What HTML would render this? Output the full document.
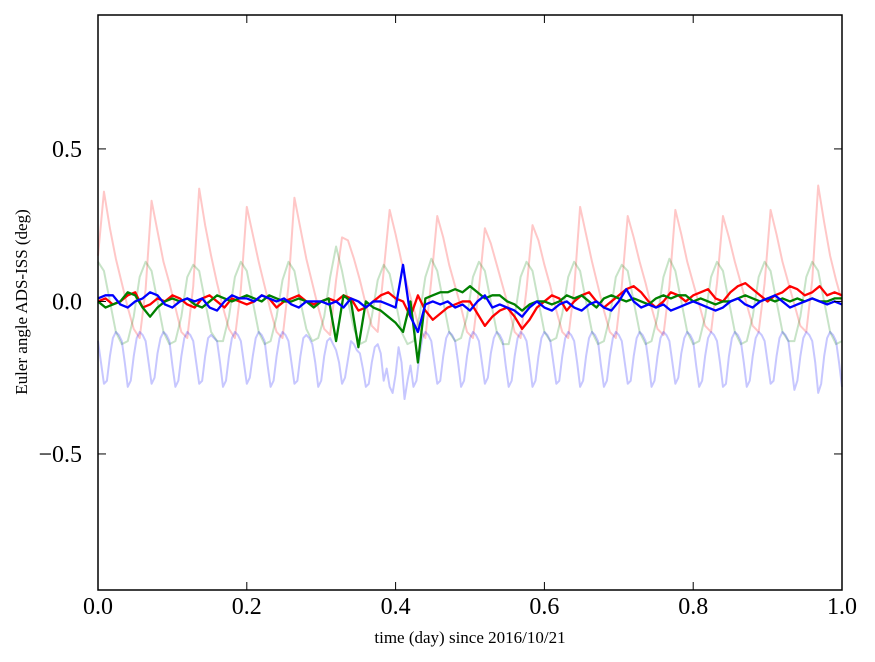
<!DOCTYPE html>
<html><head><meta charset="utf-8"><style>
html,body{margin:0;padding:0;background:#fff;}
svg{display:block;font-family:"Liberation Serif",serif;}
</style></head><body>
<svg id="chart" width="875" height="662" viewBox="0 0 875 662" xmlns="http://www.w3.org/2000/svg">
<rect x="0" y="0" width="875" height="662" fill="#fff"/>
<g id="series"></g>
<rect x="98" y="15" width="744" height="575" fill="none" stroke="#000" stroke-width="1.5"/>
<g id="ticks"></g>
<text x="470" y="643" font-size="17" text-anchor="middle">time (day) since 2016/10/21</text>
<text transform="translate(27,302) rotate(-90)" font-size="17" text-anchor="middle">Euler angle ADS-ISS (deg)</text>
</svg>
<script>
const xTicks=[0,0.2,0.4,0.6,0.8,1.0];
const xTickLabels=["0.0","0.2","0.4","0.6","0.8","1.0"];
const yTicks=[0.5,0,-0.5];
const yTickLabels=["0.5","0.0","\u22120.5"];
const paleStep=0.008;
const paleRed=[0.15,
0.36,0.24,0.14,0.06,-0.02,-0.09,-0.12,0.04,
0.33,0.23,0.13,0.06,-0.02,-0.1,-0.12,0.05,
0.37,0.25,0.15,0.06,-0.02,-0.09,-0.12,0.04,
0.31,0.22,0.13,0.05,-0.03,-0.1,-0.12,0.05,
0.34,0.24,0.14,0.06,-0.02,-0.09,-0.11,0.07,
0.21,0.2,0.14,0.07,-0.01,-0.08,-0.1,0.1,
0.30,0.22,0.13,0.05,-0.02,-0.09,-0.12,0.07,
0.28,0.21,0.12,0.05,-0.02,-0.1,-0.12,0.04,
0.24,0.19,0.12,0.05,-0.02,-0.1,-0.12,0.04,
0.25,0.2,0.12,0.05,-0.03,-0.1,-0.12,0.04,
0.31,0.22,0.13,0.05,-0.03,-0.1,-0.12,0.05,
0.28,0.21,0.13,0.06,-0.02,-0.09,-0.11,0.05,
0.30,0.22,0.13,0.06,-0.01,-0.08,-0.1,0.06,
0.28,0.21,0.13,0.06,-0.01,-0.08,-0.1,0.06,
0.30,0.22,0.13,0.06,-0.01,-0.08,-0.1,0.07,
0.38,0.26,0.15,0.07,0.0];
const paleGreen=[
0.13,0.1,0.0,-0.1,-0.14,-0.13,-0.05,0.08,
0.13,0.1,0.0,-0.1,-0.14,-0.13,-0.05,0.08,
0.12,0.1,0.0,-0.1,-0.13,-0.13,-0.05,0.08,
0.13,0.1,0.0,-0.1,-0.14,-0.13,-0.05,0.07,
0.13,0.1,0.0,-0.09,-0.13,-0.12,-0.05,0.08,
0.18,0.1,0.0,-0.09,-0.14,-0.13,-0.05,0.07,
0.12,0.09,0.0,-0.1,-0.14,-0.13,-0.05,0.08,
0.14,0.1,0.0,-0.1,-0.13,-0.12,-0.05,0.08,
0.13,0.1,0.0,-0.1,-0.14,-0.14,-0.05,0.08,
0.13,0.1,0.0,-0.1,-0.13,-0.12,-0.04,0.08,
0.13,0.1,0.0,-0.1,-0.14,-0.13,-0.05,0.08,
0.12,0.1,0.0,-0.1,-0.14,-0.13,-0.05,0.08,
0.14,0.1,0.0,-0.1,-0.14,-0.13,-0.05,0.08,
0.13,0.1,0.0,-0.1,-0.14,-0.13,-0.05,0.08,
0.13,0.1,0.0,-0.1,-0.13,-0.13,-0.05,0.08,
0.13,0.1,0.0,-0.1,-0.14,-0.13];
const paleBlueStep=0.004;
const paleBlue=[
-0.13,-0.2,-0.27,-0.26,-0.18,-0.12,-0.1,-0.11,
-0.13,-0.2,-0.28,-0.26,-0.18,-0.12,-0.1,-0.11,
-0.13,-0.2,-0.27,-0.25,-0.17,-0.12,-0.1,-0.11,
-0.13,-0.21,-0.28,-0.26,-0.18,-0.12,-0.1,-0.11,
-0.13,-0.2,-0.27,-0.26,-0.18,-0.12,-0.11,-0.12,
-0.13,-0.2,-0.28,-0.26,-0.18,-0.12,-0.1,-0.11,
-0.13,-0.2,-0.27,-0.25,-0.18,-0.12,-0.1,-0.11,
-0.13,-0.21,-0.28,-0.26,-0.18,-0.12,-0.1,-0.11,
-0.13,-0.2,-0.27,-0.26,-0.18,-0.12,-0.11,-0.12,
-0.14,-0.2,-0.28,-0.26,-0.18,-0.13,-0.12,-0.14,
-0.16,-0.2,-0.27,-0.25,-0.19,-0.13,-0.14,-0.16,
-0.17,-0.22,-0.28,-0.27,-0.2,-0.15,-0.14,-0.17,
-0.26,-0.22,-0.28,-0.3,-0.24,-0.15,-0.2,-0.32,
-0.26,-0.21,-0.28,-0.26,-0.18,-0.12,-0.1,-0.11,
-0.13,-0.2,-0.27,-0.26,-0.18,-0.12,-0.1,-0.11,
-0.13,-0.2,-0.28,-0.26,-0.18,-0.12,-0.1,-0.11,
-0.13,-0.2,-0.27,-0.25,-0.17,-0.12,-0.1,-0.11,
-0.13,-0.21,-0.28,-0.26,-0.18,-0.12,-0.1,-0.11,
-0.13,-0.2,-0.28,-0.26,-0.18,-0.12,-0.1,-0.11,
-0.13,-0.2,-0.27,-0.26,-0.18,-0.12,-0.1,-0.11,
-0.13,-0.2,-0.28,-0.26,-0.18,-0.12,-0.1,-0.11,
-0.13,-0.21,-0.28,-0.26,-0.18,-0.12,-0.1,-0.11,
-0.13,-0.2,-0.27,-0.26,-0.18,-0.12,-0.1,-0.11,
-0.13,-0.2,-0.28,-0.26,-0.18,-0.12,-0.1,-0.11,
-0.13,-0.2,-0.27,-0.25,-0.17,-0.12,-0.1,-0.11,
-0.13,-0.21,-0.28,-0.26,-0.18,-0.12,-0.1,-0.11,
-0.13,-0.2,-0.28,-0.27,-0.18,-0.12,-0.1,-0.11,
-0.13,-0.2,-0.28,-0.26,-0.18,-0.12,-0.1,-0.11,
-0.13,-0.2,-0.27,-0.26,-0.18,-0.12,-0.1,-0.11,
-0.13,-0.21,-0.29,-0.26,-0.18,-0.12,-0.1,-0.11,
-0.13,-0.2,-0.3,-0.27,-0.18,-0.12,-0.1,-0.11,
-0.13,-0.2,-0.28];
const darkStep=0.01;
const darkRed=[0,0.01,-0.01,0.0,0.02,0.03,-0.02,-0.01,0.01,0.0,
0.02,0.01,-0.01,-0.02,0.01,0.02,0.0,-0.02,0.01,0.0,
-0.01,0.0,0.02,0.01,-0.02,0.0,0.01,0.02,0.0,-0.01,
0.0,0.01,0.0,0.02,0.01,-0.03,-0.02,0.0,0.02,0.03,
0.01,0.0,-0.05,0.02,-0.03,-0.06,-0.04,-0.02,-0.01,0.0,
0.0,-0.04,-0.08,-0.05,-0.03,-0.02,-0.05,-0.09,-0.06,-0.02,
0.0,0.02,0.01,-0.03,0.0,0.02,0.03,0.0,-0.02,0.0,
0.02,0.04,0.05,0.03,0.0,-0.02,0.0,0.03,0.02,0.0,
0.02,0.03,0.04,0.01,0.0,0.03,0.05,0.06,0.04,0.02,
0.0,0.02,0.03,0.05,0.04,0.02,0.03,0.05,0.02,0.03,0.02];
const darkGreen=[0,-0.02,-0.01,0.0,0.03,0.02,-0.02,-0.05,-0.02,0.0,
0.01,0.0,0.01,-0.01,-0.02,0.0,0.02,0.01,0.0,0.01,
0.02,0.01,0.0,0.02,0.01,0.0,0.0,0.01,0.0,-0.02,
0.0,0.01,-0.13,0.02,0.0,-0.15,0.0,-0.02,-0.03,-0.05,
-0.07,-0.1,0.0,-0.2,0.01,0.02,0.03,0.03,0.04,0.03,
0.05,0.03,0.01,0.02,0.02,0.0,-0.01,-0.03,-0.01,0.0,
0.0,-0.01,0.0,0.02,0.01,0.02,0.0,-0.02,0.01,0.02,
0.01,0.0,0.01,0.0,-0.01,0.01,0.02,0.01,0.02,0.02,
0.0,0.01,0.0,-0.01,0.0,0.0,0.01,0.02,0.01,0.0,
0.01,0.0,0.01,0.0,0.01,0.0,0.01,0.0,0.0,0.01,0.01];
const darkBlue=[0.01,0.02,0.02,-0.01,-0.02,0.0,0.01,0.03,0.02,-0.01,
-0.02,0.0,0.01,0.0,0.01,-0.02,-0.03,0.0,0.02,0.01,
0.01,0.0,0.02,0.01,0.0,0.01,-0.01,-0.02,0.0,0.0,
0.0,-0.01,0.0,-0.02,0.01,0.0,-0.02,0.0,0.0,-0.01,
-0.02,0.12,-0.05,-0.1,-0.01,0.0,-0.01,0.0,-0.02,-0.01,
-0.03,0.0,0.02,-0.02,-0.01,-0.02,-0.03,-0.05,-0.02,0.0,
-0.02,-0.03,-0.01,0.0,-0.02,-0.03,-0.01,0.0,-0.02,-0.03,
0.0,0.04,0.0,-0.02,-0.01,-0.02,-0.01,-0.03,-0.02,-0.01,
0.0,-0.01,-0.02,-0.03,-0.02,0.0,0.01,-0.01,-0.02,0.0,
0.01,0.02,0.0,-0.02,-0.01,0.0,0.01,0.0,-0.01,0.0,-0.01];

const NS="http://www.w3.org/2000/svg";
const X0=98,X1=842,Y0=15,Y1=590;
const xMin=0,xMax=1,yMin=-0.946,yMax=0.939;
function xs(v){return X0+(v-xMin)/(xMax-xMin)*(X1-X0);}
function ys(v){return Y1-(v-yMin)/(yMax-yMin)*(Y1-Y0);}
const sg=document.getElementById('series');
function drawLine(vals,step,color,opacity,width,name){
  let d="";
  vals.forEach((v,i)=>{d+=(i?"L":"M")+xs(i*step).toFixed(2)+","+ys(v).toFixed(2);});
  const p=document.createElementNS(NS,'path');
  p.setAttribute('d',d);
  p.setAttribute('fill','none');
  p.setAttribute('stroke',color);
  p.setAttribute('stroke-width',width);
  p.setAttribute('stroke-opacity',opacity);
  p.setAttribute('stroke-linejoin','round');
  
  
  sg.appendChild(p);
}
drawLine(paleRed,paleStep,'#ff0000',0.22,2,'pale-red-series');
drawLine(paleGreen,paleStep,'#008000',0.22,2,'pale-green-series');
drawLine(paleBlue,paleBlueStep,'#0000ff',0.22,2,'pale-blue-series');
drawLine(darkRed,darkStep,'#ff0000',1,2.3,'red-series');
drawLine(darkGreen,darkStep,'#008000',1,2.3,'green-series');
drawLine(darkBlue,darkStep,'#0000ff',1,2.3,'blue-series');

const tg=document.getElementById('ticks');
function ln(x1,y1,x2,y2,name){
  const l=document.createElementNS(NS,'line');
  l.setAttribute('x1',x1);l.setAttribute('y1',y1);l.setAttribute('x2',x2);l.setAttribute('y2',y2);
  l.setAttribute('stroke','#000');l.setAttribute('stroke-width','1');
  
  
  tg.appendChild(l);
}
function tx(x,y,s,anchor,name){
  const t=document.createElementNS(NS,'text');
  t.setAttribute('x',x);t.setAttribute('y',y);t.setAttribute('font-size','24');
  t.setAttribute('text-anchor',anchor);t.textContent=s;
  
  
  tg.appendChild(t);
}
xTicks.forEach((v,i)=>{
  const x=xs(v);
  ln(x,Y1,x,Y1-8,'x-tick');
  ln(x,Y0,x,Y0+8,'x-tick-top');
  tx(x,614,xTickLabels[i],'middle','x-tick-label');
});
yTicks.forEach((v,i)=>{
  const y=ys(v);
  ln(X0,y,X0+8,y,'y-tick');
  ln(X1,y,X1-8,y,'y-tick-right');
  tx(82,y+8,yTickLabels[i],'end','y-tick-label');
});
</script>
</body></html>
